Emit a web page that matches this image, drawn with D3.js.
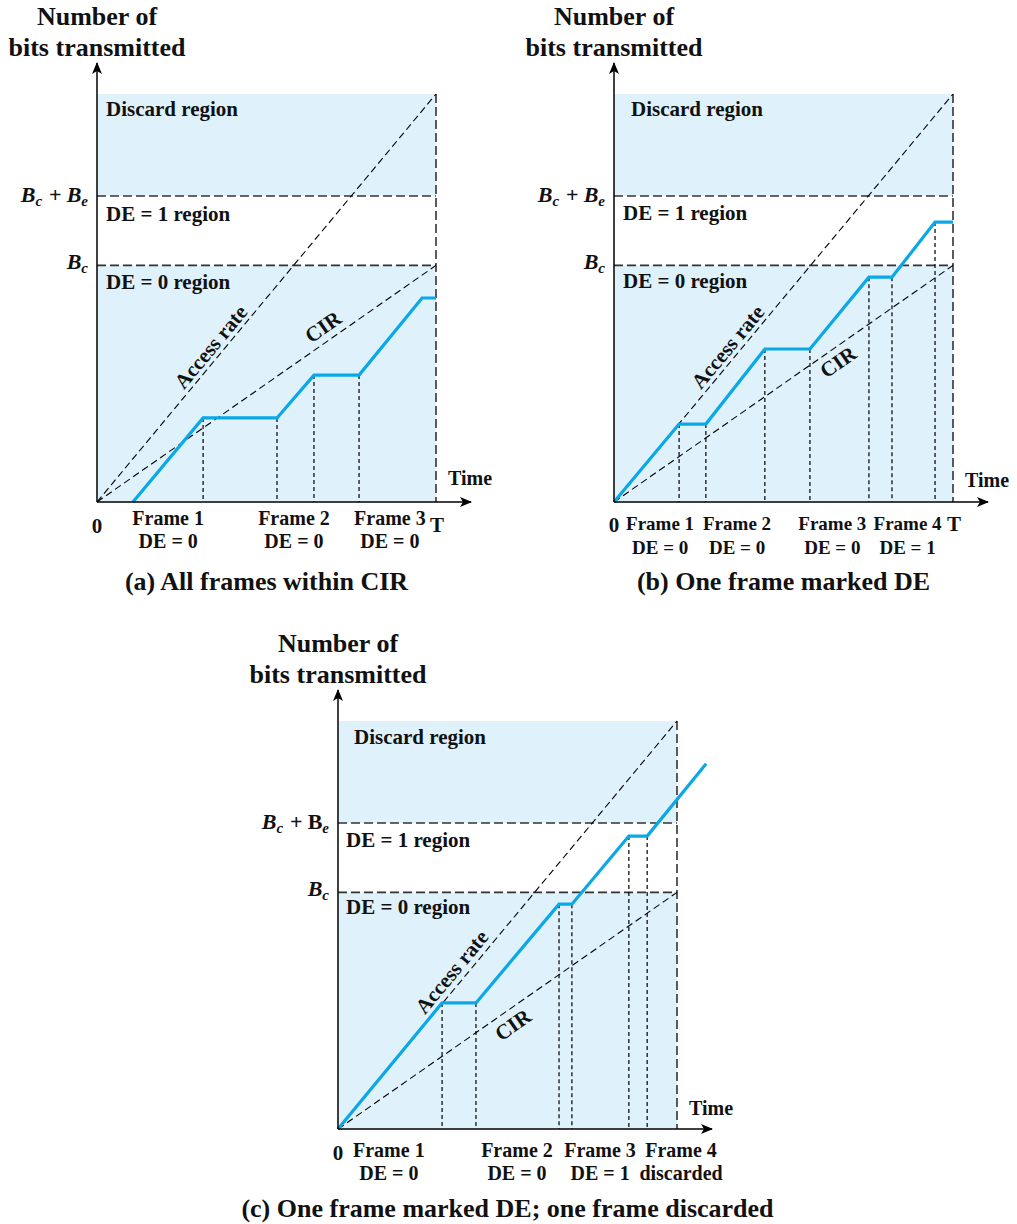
<!DOCTYPE html>
<html>
<head>
<meta charset="utf-8">
<script src="https://cdn.jsdelivr.net/npm/d3@7"></script>
<style>
  html, body { margin: 0; padding: 0; background: #fff; }
  svg { display: block; }
  text { font-family: "Liberation Serif", "Times New Roman", serif; font-weight: bold; fill: #111; }
</style>
</head>
<body>
<svg id="chart" width="1017" height="1224"></svg>
<script>
// ---------------- DATA ----------------
const T_MAX = 100;          // time T (arbitrary units)
const BITS_MAX = 100;       // top of discard region (bits, arbitrary units)
const Bc = 58;              // committed burst size
const BcBe = 75;            // Bc + Be

const regionNames = ["Discard region", "DE = 1 region", "DE = 0 region"];
const axisTitle = ["Number of", "bits transmitted"];

// Panel (a)
const timeA = [10.6, 31.3, 53.1, 64.0, 77.3, 95.9, 100];
const bitsA = [0, 20.6, 20.6, 31.1, 31.1, 50.0, 50.0];
const dropA = [1, 2, 3, 4];
const frameNamesA = ["Frame 1", "Frame 2", "Frame 3"];
const frameDEA = ["DE = 0", "DE = 0", "DE = 0"];
const frameTimeA = [21.0, 58.1, 86.4];

// Panel (b)
const timeB = [0, 19.2, 27.1, 44.5, 57.8, 75.2, 82.0, 94.7, 100];
const bitsB = [0, 19.1, 19.1, 37.5, 37.5, 55.1, 55.1, 68.6, 68.6];
const dropB = [1, 2, 3, 4, 5, 6, 7];
const frameNamesB = ["Frame 1", "Frame 2", "Frame 3", "Frame 4"];
const frameDEB = ["DE = 0", "DE = 0", "DE = 0", "DE = 1"];
const frameTimeB = [13.6, 36.3, 64.4, 86.6];

// Panel (c)
const timeC = [0, 30.7, 40.7, 65.2, 69.0, 85.8, 91.2, 108.6];
const bitsC = [0, 30.9, 30.9, 55.1, 55.1, 71.8, 71.8, 89.5];
const dropC = [1, 2, 3, 4, 5, 6];
const frameNamesC = ["Frame 1", "Frame 2", "Frame 3", "Frame 4"];
const frameDEC = ["DE = 0", "DE = 0", "DE = 1", "discarded"];
const frameTimeC = [15.0, 52.8, 77.3, 101.2];

const captions = ["(a) All frames within CIR", "(b) One frame marked DE",
                  "(c) One frame marked DE; one frame discarded"];
// positions (time, bits) of the rotated line labels
const accessLabelAt = [[33.6, 38.0], [33.6, 38.0], [33.6, 38.5]];
const cirLabelAt = [[66.7, 42.9], [66.1, 34.3], [51.6, 25.5]];

// ---------------- LAYOUT ----------------
const W = 339, H = 408;
const panels = [
  { x0: 97,  y0: 502,  time: timeA, bits: bitsA, drop: dropA, names: frameNamesA, des: frameDEA, ft: frameTimeA,
    cap: captions[0], acc: accessLabelAt[0], cir: cirLabelAt[0], discardDx: 9, deDx: 9,
    frameDy: 23, deDy: 46, zeroDy: 31, showT: true, tDy: 30, timeDy: -17, romanBe: false,
    regDy: [22, 25, 24], frameFont: 20 },
  { x0: 614, y0: 502,  time: timeB, bits: bitsB, drop: dropB, names: frameNamesB, des: frameDEB, ft: frameTimeB,
    cap: captions[1], acc: accessLabelAt[1], cir: cirLabelAt[1], discardDx: 17, deDx: 9,
    frameDy: 28, deDy: 52, zeroDy: 30, showT: true, tDy: 29, timeDy: -15, romanBe: false,
    regDy: [22, 24, 23], frameFont: 19 },
  { x0: 338, y0: 1129, time: timeC, bits: bitsC, drop: dropC, names: frameNamesC, des: frameDEC, ft: frameTimeC,
    cap: captions[2], acc: accessLabelAt[2], cir: cirLabelAt[2], discardDx: 16, deDx: 8,
    frameDy: 28, deDy: 51, zeroDy: 31, showT: false, tDy: 0, timeDy: -14, romanBe: true,
    regDy: [23, 24, 22], frameFont: 20 }
];

const svg = d3.select("#chart");
const defs = svg.append("defs");
defs.append("marker").attr("id", "arrow")
  .attr("viewBox", "0 0 12 10").attr("refX", 11).attr("refY", 5)
  .attr("markerWidth", 12).attr("markerHeight", 10).attr("markerUnits", "userSpaceOnUse")
  .attr("orient", "auto")
  .append("path").attr("d", "M0,0 L12,5 L0,10 L3,5 Z").attr("fill", "#000");

const FILL = "#dff1fb";
const BLUE = "#0aa8e6";

panels.forEach(p => {
  const x = d3.scaleLinear().domain([0, T_MAX]).range([p.x0, p.x0 + W]);
  const y = d3.scaleLinear().domain([0, BITS_MAX]).range([p.y0, p.y0 - H]);
  const g = svg.append("g");

  // regions
  g.append("rect").attr("x", x(0)).attr("y", y(BITS_MAX)).attr("width", x(T_MAX) - x(0))
    .attr("height", y(BcBe) - y(BITS_MAX)).attr("fill", FILL);
  g.append("rect").attr("x", x(0)).attr("y", y(Bc)).attr("width", x(T_MAX) - x(0))
    .attr("height", y(0) - y(Bc)).attr("fill", FILL);

  // horizontal level lines
  [BcBe, Bc].forEach(v => {
    g.append("line").attr("x1", x(0)).attr("x2", x(T_MAX)).attr("y1", y(v)).attr("y2", y(v))
      .attr("stroke", "#333").attr("stroke-width", 1.6).attr("stroke-dasharray", "9,4");
  });
  // vertical line at T
  g.append("line").attr("x1", x(T_MAX)).attr("x2", x(T_MAX)).attr("y1", y(BITS_MAX)).attr("y2", y(0))
    .attr("stroke", "#333").attr("stroke-width", 1.6).attr("stroke-dasharray", "9,4");

  // access rate & CIR
  const line = d3.line().x(d => x(d[0])).y(d => y(d[1]));
  g.append("path").attr("d", line([[0, 0], [T_MAX, BITS_MAX]]))
    .attr("fill", "none").attr("stroke", "#000").attr("stroke-width", 1.1).attr("stroke-dasharray", "7,4");
  g.append("path").attr("d", line([[0, 0], [T_MAX, Bc]]))
    .attr("fill", "none").attr("stroke", "#000").attr("stroke-width", 1.1).attr("stroke-dasharray", "7,4");

  // drop lines
  p.drop.forEach(i => {
    g.append("line").attr("x1", x(p.time[i])).attr("x2", x(p.time[i]))
      .attr("y1", y(p.bits[i])).attr("y2", y(0))
      .attr("stroke", "#000").attr("stroke-width", 1.2).attr("stroke-dasharray", "4,3");
  });

  // blue transmitted-bits line
  g.append("path").attr("d", line(p.time.map((t, i) => [t, p.bits[i]])))
    .attr("fill", "none").attr("stroke", BLUE).attr("stroke-width", 3.2).attr("stroke-linejoin", "miter");

  // axes
  g.append("line").attr("x1", p.x0).attr("x2", p.x0).attr("y1", p.y0).attr("y2", p.y0 - 439)
    .attr("stroke", "#000").attr("stroke-width", 1.5).attr("marker-end", "url(#arrow)");
  g.append("line").attr("x1", p.x0).attr("x2", p.x0 + 374).attr("y1", p.y0).attr("y2", p.y0)
    .attr("stroke", "#000").attr("stroke-width", 1.5).attr("marker-end", "url(#arrow)");

  // axis title
  axisTitle.forEach((t, i) => {
    g.append("text").attr("x", p.x0).attr("y", p.y0 - 477 + i * 31)
      .attr("text-anchor", "middle").attr("font-size", 26).text(t);
  });

  // region labels
  g.append("text").attr("x", x(0) + p.discardDx).attr("y", y(BITS_MAX) + p.regDy[0])
    .attr("font-size", 21).text(regionNames[0]);
  g.append("text").attr("x", x(0) + p.deDx).attr("y", y(BcBe) + p.regDy[1])
    .attr("font-size", 21).text(regionNames[1]);
  g.append("text").attr("x", x(0) + p.deDx).attr("y", y(Bc) + p.regDy[2])
    .attr("font-size", 21).text(regionNames[2]);

  // y level labels
  const t1 = g.append("text").attr("x", p.x0 - 9).attr("y", y(BcBe) + 6)
    .attr("text-anchor", "end").attr("font-size", 22);
  t1.append("tspan").attr("font-style", "italic").text("B");
  t1.append("tspan").attr("font-style", "italic").attr("font-size", 15).attr("dy", 4).text("c");
  t1.append("tspan").attr("dy", -4).attr("dx", 7).text("+");
  t1.append("tspan").attr("dx", 5).attr("font-style", p.romanBe ? "normal" : "italic").text("B");
  t1.append("tspan").attr("font-style", "italic").attr("font-size", 15).attr("dy", 4).text("e");

  const t2 = g.append("text").attr("x", p.x0 - 9).attr("y", y(Bc) + 4)
    .attr("text-anchor", "end").attr("font-size", 22);
  t2.append("tspan").attr("font-style", "italic").text("B");
  t2.append("tspan").attr("font-style", "italic").attr("font-size", 15).attr("dy", 4).text("c");

  // rotated labels
  const angA = Math.atan2(y(BITS_MAX) - y(0), x(T_MAX) - x(0)) * 180 / Math.PI;
  const angC = Math.atan2(y(Bc) - y(0), x(T_MAX) - x(0)) * 180 / Math.PI;
  g.append("text").attr("transform", `translate(${x(p.acc[0])},${y(p.acc[1])}) rotate(${angA})`)
    .attr("text-anchor", "middle").attr("dominant-baseline", "central")
    .attr("font-size", 21).text("Access rate");
  g.append("text").attr("transform", `translate(${x(p.cir[0])},${y(p.cir[1])}) rotate(${angC})`)
    .attr("text-anchor", "middle").attr("dominant-baseline", "central")
    .attr("font-size", 21).text("CIR");

  // x labels
  g.append("text").attr("x", p.x0).attr("y", p.y0 + p.zeroDy).attr("text-anchor", "middle")
    .attr("font-size", 21).text("0");
  if (p.showT) {
    g.append("text").attr("x", x(T_MAX) + 1).attr("y", p.y0 + p.tDy).attr("text-anchor", "middle")
      .attr("font-size", 21).text("T");
  }
  g.append("text").attr("x", p.x0 + 351).attr("y", p.y0 + p.timeDy).attr("font-size", 20).text("Time");

  p.names.forEach((n, i) => {
    g.append("text").attr("x", x(p.ft[i])).attr("y", p.y0 + p.frameDy)
      .attr("text-anchor", "middle").attr("font-size", p.frameFont).text(n);
    g.append("text").attr("x", x(p.ft[i])).attr("y", p.y0 + p.deDy)
      .attr("text-anchor", "middle").attr("font-size", p.frameFont).text(p.des[i]);
  });

  // caption
  g.append("text").attr("x", x(T_MAX / 2)).attr("y", p.y0 + 88)
    .attr("text-anchor", "middle").attr("font-size", 26).text(p.cap);
});
</script>
</body>
</html>
